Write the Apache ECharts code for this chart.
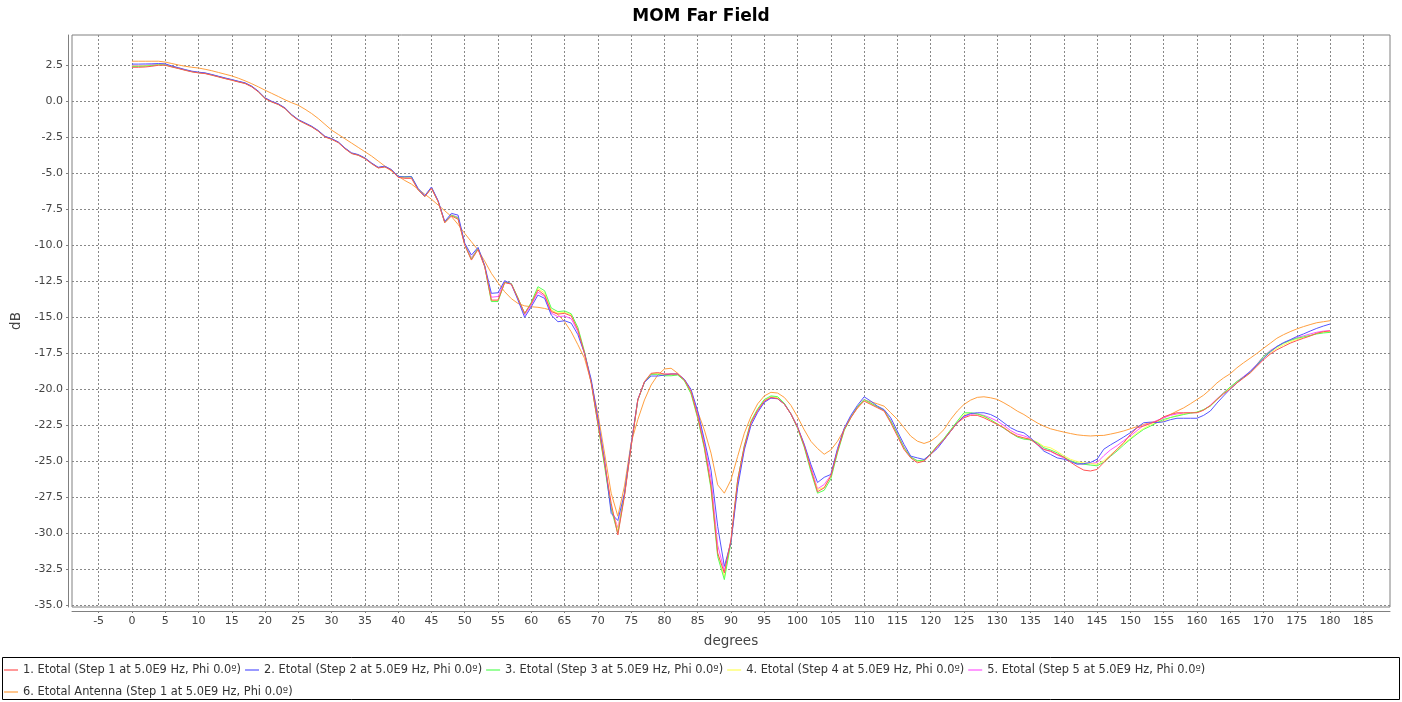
<!DOCTYPE html>
<html>
<head>
<meta charset="utf-8">
<script src="https://cdn.jsdelivr.net/npm/echarts@6.0.0/dist/echarts.min.js"></script>
<style>
html,body{margin:0;padding:0;background:#fff;}
#chart{width:1402px;height:702px;}
</style>
</head>
<body>
<div id="chart"></div>
<script>
// angles 0..180 degrees, 1 degree step
const angles = Array.from({length: 181}, (_, i) => i);
const xTicks = [-5,0,5,10,15,20,25,30,35,40,45,50,55,60,65,70,75,80,85,90,95,100,105,110,115,120,125,130,135,140,145,150,155,160,165,170,175,180,185];
const yTicks = [-35,-32.5,-30,-27.5,-25,-22.5,-20,-17.5,-15,-12.5,-10,-7.5,-5,-2.5,0,2.5];
const seriesNames = [
  '1. Etotal (Step 1 at 5.0E9 Hz, Phi 0.0º)',
  '2. Etotal (Step 2 at 5.0E9 Hz, Phi 0.0º)',
  '3. Etotal (Step 3 at 5.0E9 Hz, Phi 0.0º)',
  '4. Etotal (Step 4 at 5.0E9 Hz, Phi 0.0º)',
  '5. Etotal (Step 5 at 5.0E9 Hz, Phi 0.0º)',
  '6. Etotal Antenna (Step 1 at 5.0E9 Hz, Phi 0.0º)'
];
const s1 = [2.36,2.36,2.38,2.43,2.5,2.5,2.38,2.27,2.15,2.04,
1.97,1.92,1.81,1.69,1.57,1.46,1.34,1.23,1.0,0.65,
0.19,-0.05,-0.23,-0.51,-0.97,-1.32,-1.55,-1.78,-2.08,-2.48,
-2.64,-2.87,-3.29,-3.63,-3.75,-3.98,-4.33,-4.63,-4.56,-4.79,
-5.28,-5.35,-5.35,-6.16,-6.62,-6.04,-6.97,-8.43,-7.96,-8.19,
-9.98,-11.02,-10.28,-11.48,-13.8,-13.8,-12.59,-12.69,-13.68,-14.72,
-14.03,-13.1,-13.45,-14.6,-14.77,-14.72,-14.9,-15.88,-17.5,-19.57,
-22.35,-25.1,-27.9,-30.1,-27.4,-23.96,-20.73,-19.46,-18.88,-18.83,
-18.93,-18.93,-18.93,-19.34,-20.15,-21.88,-23.96,-26.7,-31.35,-32.74,
-30.4,-26.27,-23.96,-22.3,-21.45,-20.8,-20.56,-20.63,-21.02,-21.7,
-22.64,-23.91,-25.53,-27.1,-26.83,-26.02,-24.28,-22.78,-21.97,-21.27,
-20.81,-21.04,-21.27,-21.5,-22.32,-23.24,-24.17,-24.75,-25.09,-24.98,
-24.51,-23.94,-23.47,-22.89,-22.32,-21.97,-21.8,-21.8,-21.97,-22.2,
-22.43,-22.66,-23.01,-23.24,-23.36,-23.47,-23.82,-24.17,-24.28,-24.51,
-24.7,-25.05,-25.35,-25.6,-25.66,-25.55,-25.07,-24.61,-24.15,-23.69,
-23.12,-22.66,-22.54,-22.36,-22.2,-21.9,-21.74,-21.62,-21.62,-21.62,
-21.62,-21.44,-21.12,-20.7,-20.31,-19.97,-19.55,-19.21,-18.86,-18.4,
-17.94,-17.55,-17.25,-17.02,-16.79,-16.61,-16.45,-16.29,-16.1,-15.99,-15.94];
const s2 = [2.58,2.58,2.59,2.6,2.62,2.6,2.45,2.33,2.2,2.09,
2.02,1.97,1.86,1.74,1.62,1.51,1.39,1.28,1.05,0.7,
0.24,0.0,-0.18,-0.46,-0.92,-1.27,-1.5,-1.73,-2.03,-2.43,
-2.59,-2.82,-3.24,-3.58,-3.7,-3.93,-4.28,-4.58,-4.5,-4.74,
-5.23,-5.25,-5.23,-6.05,-6.55,-5.95,-6.9,-8.35,-7.78,-7.9,
-9.85,-10.67,-10.14,-11.4,-13.33,-13.29,-12.45,-12.69,-13.8,-15.0,
-14.26,-13.45,-13.68,-14.84,-15.3,-15.23,-15.4,-16.2,-17.5,-19.3,
-22.0,-24.9,-28.6,-29.1,-27.2,-23.8,-20.7,-19.5,-19.07,-19.07,
-19.0,-18.93,-18.93,-19.3,-20.0,-21.5,-23.5,-25.6,-29.5,-32.28,
-30.6,-26.8,-24.2,-22.5,-21.6,-20.9,-20.6,-20.65,-21.0,-21.7,
-22.6,-23.8,-25.2,-26.46,-26.1,-25.9,-24.1,-22.7,-21.8,-21.1,
-20.51,-20.81,-21.16,-21.4,-21.97,-22.9,-23.82,-24.63,-24.75,-24.86,
-24.5,-24.1,-23.5,-22.9,-22.3,-21.85,-21.67,-21.62,-21.62,-21.74,
-21.97,-22.32,-22.66,-22.89,-23.01,-23.36,-23.82,-24.28,-24.51,-24.75,
-24.84,-25.0,-25.19,-25.15,-25.07,-24.84,-24.15,-23.85,-23.58,-23.3,
-23.0,-22.65,-22.31,-22.27,-22.3,-22.25,-22.1,-22.0,-22.0,-22.0,
-22.0,-21.8,-21.5,-20.95,-20.45,-19.97,-19.55,-19.15,-18.75,-18.3,
-17.83,-17.4,-17.02,-16.75,-16.55,-16.33,-16.15,-15.95,-15.76,-15.6,-15.46];
const s3 = [2.42,2.42,2.44,2.48,2.53,2.52,2.4,2.29,2.17,2.06,
1.99,1.94,1.83,1.71,1.59,1.48,1.36,1.25,1.02,0.67,
0.21,-0.03,-0.21,-0.49,-0.95,-1.3,-1.53,-1.76,-2.06,-2.46,
-2.62,-2.85,-3.27,-3.61,-3.73,-3.96,-4.31,-4.61,-4.54,-4.77,
-5.25,-5.23,-5.23,-6.12,-6.6,-6.0,-6.95,-8.4,-7.9,-8.1,
-9.95,-10.95,-10.2,-11.45,-13.9,-13.9,-12.55,-12.65,-13.65,-14.75,
-13.95,-12.87,-13.15,-14.35,-14.6,-14.55,-14.75,-15.7,-17.4,-19.5,
-22.4,-25.3,-28.3,-30.0,-27.3,-23.9,-20.75,-19.5,-18.95,-18.95,
-19.05,-19.05,-19.0,-19.4,-20.3,-22.0,-24.1,-26.9,-31.6,-33.2,
-30.6,-26.3,-23.9,-22.2,-21.35,-20.7,-20.45,-20.5,-20.95,-21.7,
-22.7,-24.0,-25.7,-27.2,-27.0,-26.2,-24.4,-22.85,-21.95,-21.2,
-20.7,-20.95,-21.2,-21.45,-22.2,-23.1,-24.05,-24.7,-24.95,-24.9,
-24.45,-23.9,-23.4,-22.8,-22.2,-21.62,-21.62,-21.7,-21.85,-22.1,
-22.4,-22.7,-23.0,-23.3,-23.45,-23.5,-23.7,-24.05,-24.2,-24.4,
-24.7,-24.95,-25.1,-25.19,-25.25,-25.3,-25.05,-24.65,-24.27,-23.85,
-23.46,-23.1,-22.77,-22.55,-22.3,-22.08,-21.95,-21.85,-21.74,-21.65,
-21.58,-21.4,-21.16,-20.7,-20.25,-19.83,-19.45,-19.15,-18.82,-18.3,
-17.71,-17.35,-17.05,-16.79,-16.6,-16.45,-16.35,-16.25,-16.15,-16.08,-16.04];
const s4 = [2.45,2.45,2.46,2.5,2.54,2.53,2.4,2.29,2.17,2.06,
1.99,1.94,1.83,1.71,1.59,1.48,1.36,1.25,1.02,0.67,
0.21,-0.03,-0.21,-0.49,-0.95,-1.3,-1.53,-1.76,-2.06,-2.46,
-2.62,-2.85,-3.27,-3.61,-3.73,-3.96,-4.31,-4.61,-4.54,-4.77,
-5.27,-5.3,-5.3,-6.14,-6.6,-6.02,-6.96,-8.42,-7.92,-8.15,
-9.96,-11.0,-10.25,-11.46,-13.85,-13.85,-12.57,-12.67,-13.67,-14.73,
-14.0,-13.0,-13.3,-14.5,-14.7,-14.65,-14.82,-15.8,-17.45,-19.5,
-22.35,-25.2,-28.1,-29.8,-27.3,-23.9,-20.74,-19.48,-18.9,-18.88,
-18.98,-18.98,-18.97,-19.37,-20.2,-21.95,-24.0,-26.8,-31.4,-33.0,
-30.5,-26.3,-23.95,-22.25,-21.4,-20.75,-20.5,-20.57,-20.98,-21.7,
-22.66,-23.95,-25.6,-26.95,-26.8,-26.0,-24.3,-22.8,-21.95,-21.25,
-20.75,-21.0,-21.22,-21.47,-22.25,-23.15,-24.1,-24.72,-25.0,-24.93,
-24.48,-23.92,-23.43,-22.85,-22.27,-21.75,-21.65,-21.7,-21.88,-22.12,
-22.38,-22.65,-22.95,-23.25,-23.38,-23.45,-23.65,-23.95,-24.05,-24.3,
-24.6,-24.85,-25.0,-25.1,-25.15,-25.2,-24.95,-24.55,-24.15,-23.75,
-23.4,-23.0,-22.7,-22.45,-22.3,-22.2,-21.95,-21.8,-21.7,-21.62,
-21.58,-21.42,-21.14,-20.7,-20.28,-19.9,-19.5,-19.18,-18.84,-18.35,
-17.82,-17.45,-17.15,-16.9,-16.7,-16.53,-16.4,-16.27,-16.12,-16.03,-15.98];
const s5 = [2.48,2.48,2.5,2.53,2.57,2.56,2.42,2.31,2.18,2.07,
2.0,1.95,1.84,1.72,1.6,1.49,1.37,1.26,1.03,0.68,
0.22,-0.02,-0.2,-0.48,-0.94,-1.29,-1.52,-1.75,-2.05,-2.45,
-2.61,-2.84,-3.26,-3.6,-3.72,-3.95,-4.3,-4.6,-4.53,-4.76,
-5.26,-5.3,-5.28,-6.1,-6.58,-6.0,-6.93,-8.4,-7.88,-8.05,
-9.92,-10.85,-10.2,-11.44,-13.6,-13.55,-12.5,-12.68,-13.72,-14.85,
-14.12,-13.25,-13.55,-14.7,-14.95,-14.9,-15.1,-16.0,-17.5,-19.45,
-22.2,-25.0,-28.2,-29.6,-27.3,-23.9,-20.72,-19.48,-18.95,-18.9,
-18.95,-18.93,-18.93,-19.32,-20.1,-21.7,-23.7,-26.2,-30.8,-32.6,
-30.5,-26.5,-24.05,-22.35,-21.5,-20.85,-20.58,-20.64,-21.01,-21.7,
-22.62,-23.85,-25.35,-26.9,-26.6,-25.95,-24.2,-22.75,-21.9,-21.2,
-20.68,-20.95,-21.22,-21.45,-22.15,-23.05,-24.0,-24.68,-24.95,-24.92,
-24.5,-24.0,-23.48,-22.9,-22.3,-21.9,-21.72,-21.7,-21.8,-21.98,
-22.2,-22.5,-22.85,-23.1,-23.22,-23.4,-23.75,-24.15,-24.3,-24.55,
-24.75,-24.95,-25.15,-25.2,-25.15,-25.07,-24.6,-24.2,-23.9,-23.55,
-23.23,-22.85,-22.5,-22.35,-22.15,-21.97,-21.8,-21.7,-21.65,-21.62,
-21.6,-21.42,-21.1,-20.65,-20.22,-19.85,-19.45,-19.1,-18.75,-18.25,
-17.7,-17.3,-17.02,-16.78,-16.58,-16.4,-16.28,-16.15,-16.03,-15.95,-15.92];
const s6 = [2.78,2.78,2.78,2.78,2.78,2.72,2.62,2.52,2.43,2.36,
2.31,2.22,2.12,2.0,1.88,1.76,1.6,1.42,1.22,1.0,
0.77,0.55,0.33,0.1,-0.1,-0.28,-0.55,-0.85,-1.2,-1.6,
-2.0,-2.3,-2.6,-2.9,-3.2,-3.5,-3.8,-4.15,-4.5,-4.85,
-5.2,-5.5,-5.75,-6.1,-6.45,-6.8,-7.2,-7.6,-8.0,-8.55,
-9.17,-9.75,-10.32,-11.1,-11.94,-12.6,-13.22,-13.7,-14.03,-14.2,
-14.26,-14.3,-14.38,-14.5,-14.8,-15.3,-16.0,-16.9,-17.84,-19.5,
-21.65,-24.42,-27.2,-28.8,-26.7,-23.7,-22.1,-20.73,-19.69,-19.0,
-18.58,-18.53,-18.88,-19.34,-20.27,-21.54,-22.81,-24.42,-26.62,-27.2,
-26.27,-24.65,-23.04,-21.88,-21.0,-20.45,-20.2,-20.25,-20.55,-21.1,
-21.9,-22.8,-23.6,-24.1,-24.5,-24.2,-23.6,-22.8,-21.9,-21.3,
-20.75,-20.85,-21.0,-21.16,-21.62,-22.08,-22.66,-23.24,-23.59,-23.75,
-23.59,-23.24,-22.78,-22.08,-21.5,-21.04,-20.74,-20.55,-20.51,-20.58,
-20.69,-20.93,-21.2,-21.5,-21.74,-22.04,-22.32,-22.55,-22.73,-22.85,
-22.96,-23.06,-23.15,-23.2,-23.23,-23.2,-23.19,-23.1,-23.0,-22.88,
-22.73,-22.58,-22.43,-22.3,-22.2,-21.98,-21.74,-21.5,-21.28,-21.0,
-20.7,-20.4,-20.0,-19.55,-19.2,-18.91,-18.5,-18.15,-17.83,-17.5,
-17.14,-16.8,-16.45,-16.2,-15.99,-15.8,-15.64,-15.5,-15.37,-15.3,-15.23];
const seriesValues = [s1, s2, s3, s4, s5, s6];
const seriesColors = ['#FF5555', '#5555FF', '#55FF55', '#FFFF55', '#FF55FF', '#FFA040'];

const chart = echarts.init(document.getElementById('chart'), null, {renderer: 'canvas'});
const FONT = 'DejaVu Sans';
const option = {
  animation: false,
  backgroundColor: '#ffffff',
  title: {
    text: 'MOM Far Field', left: 'center', top: 3,
    textStyle: {fontFamily: FONT, fontWeight: 'bold', fontSize: 17, color: '#000'}
  },
  grid: {left: 72, right: 12, top: 35, bottom: 95, show: true, borderColor: '#808080', borderWidth: 1, backgroundColor: '#fff'},
  xAxis: {
    type: 'value', min: -9, max: 189, offset: 4,
    name: 'degrees', nameLocation: 'middle', nameGap: 23,
    nameTextStyle: {fontFamily: FONT, fontSize: 13.5, color: '#444'},
    axisLine: {show: true, onZero: false, lineStyle: {color: '#808080'}},
    axisTick: {show: true, length: 2, customValues: xTicks, lineStyle: {color: '#808080'}},
    axisLabel: {customValues: xTicks, margin: 5, color: '#444', fontFamily: FONT, fontSize: 11},
    splitLine: {show: true, lineStyle: {color: '#888', width: 1, type: [2, 2]}}
  },
  yAxis: {
    type: 'value', min: -35.1, max: 4.6, offset: 4,
    name: 'dB', nameLocation: 'middle', nameGap: 40, nameRotate: 90,
    nameTextStyle: {fontFamily: FONT, fontSize: 13.5, color: '#444'},
    axisLine: {show: true, onZero: false, lineStyle: {color: '#808080'}},
    axisTick: {show: true, length: 2, customValues: yTicks, lineStyle: {color: '#808080'}},
    axisLabel: {customValues: yTicks, margin: 5, color: '#444', fontFamily: FONT, fontSize: 11,
      formatter: v => Number(v).toFixed(1)},
    splitLine: {show: true, lineStyle: {color: '#888', width: 1, type: [2, 2]}}
  },
  legend: {
    left: 4, top: 661, padding: 0, itemGap: 4, width: 1300,
    icon: 'rect', itemWidth: 14, itemHeight: 1.2,
    textStyle: {fontFamily: FONT, fontSize: 11.4, color: '#333', lineHeight: 18},
    data: seriesNames
  },
  graphic: [{
    type: 'rect', silent: true,
    shape: {x: 2.5, y: 657.5, width: 1397, height: 42},
    style: {fill: 'none', stroke: '#000', lineWidth: 1}
  }],
  series: seriesValues.map((vals, k) => ({
    name: seriesNames[k],
    type: 'line',
    z: 10 - k,
    symbol: 'none',
    color: seriesColors[k],
    lineStyle: {width: 1, color: seriesColors[k]},
    itemStyle: {color: seriesColors[k]},
    emphasis: {disabled: true},
    data: angles.map((a, i) => [a, vals[i]])
  }))
};
chart.setOption(option);
</script>
</body>
</html>
